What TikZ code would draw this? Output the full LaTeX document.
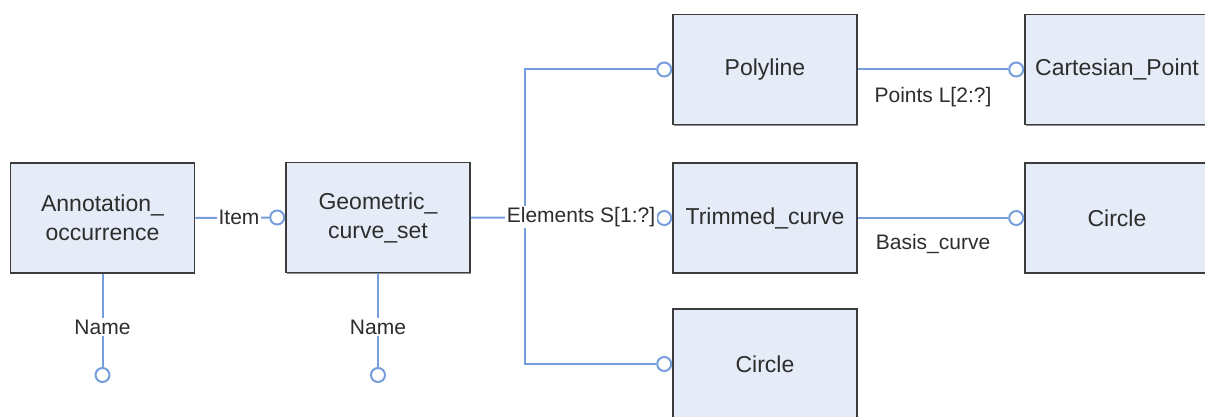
\documentclass[tikz,border=0pt]{standalone}
\usepackage{fontspec}
\setmainfont{Liberation Sans}
\usetikzlibrary{shadows}
\definecolor{boxfill}{RGB}{230,236,247}
\definecolor{boxline}{RGB}{60,60,60}
\definecolor{conn}{RGB}{118,158,220}
\definecolor{ink}{RGB}{45,45,45}
\tikzset{
  entity/.style={draw=boxline, line width=1.6pt, fill=boxfill,
    minimum width=184pt, minimum height=110pt, align=center, inner sep=0pt,
    text=ink, font=\fontsize{23}{29}\selectfont,
    drop shadow={shadow xshift=0.8pt, shadow yshift=-1.2pt, fill=black, opacity=0.45}},
  rel/.style={draw=conn, line width=2pt},
  endc/.style={circle, draw=conn, line width=2pt, fill=white,
    minimum size=14pt, inner sep=0pt},
  lbl/.style={font=\fontsize{21}{24}\selectfont, text=ink, inner sep=1.5pt, fill=white},
  lblplain/.style={font=\fontsize{21}{24}\selectfont, text=ink, inner sep=0pt},
}
\begin{document}
\begin{tikzpicture}[x=1pt,y=-1pt]
\useasboundingbox (0,0) rectangle (1205,417);
\clip (0,0) rectangle (1205,417);

% entities
\node[entity] (ann)   at (102.5,218) {Annotation\_\\occurrence};
\node[entity] (gcs)   at (378,217.5) {Geometric\_\\curve\_set};
\node[entity] (poly)  at (765,69.5)  {Polyline};
\node[entity] (cart)  at (1117,69.5) {Cartesian\_Point};
\node[entity] (trim)  at (765,218)   {Trimmed\_curve};
\node[entity] (circR) at (1117,218)  {Circle};
\node[entity] (circB) at (765,364)   {Circle};

% relationship end markers
\node[endc, anchor=east] (c-item)  at (gcs.west)   {};
\node[endc, anchor=east] (c-poly)  at (poly.west)  {};
\node[endc, anchor=east] (c-trim)  at (trim.west)  {};
\node[endc, anchor=east] (c-circB) at (circB.west) {};
\node[endc, anchor=east] (c-cart)  at (cart.west)  {};
\node[endc, anchor=east] (c-circR) at (circR.west) {};
\node[endc] (c-name1) at (102.5,375) {};
\node[endc] (c-name2) at (378,375)   {};

% Item
\draw[rel] (ann.east) -- (c-item.west);
\node[lbl] (l-item) at (239,217) {Item};

% Elements S[1:?]
\coordinate (j) at (525,217);
\draw[rel] (gcs.east) -- (c-trim.west);
\draw[rel] (c-poly.west) -| (j |- c-circB.west) -- (c-circB.west);
\node[lbl] (l-elem) at (581,217) {Elements S[1:?]};

% Points and Basis_curve
\draw[rel] (poly.east) -- node[lblplain, below=17pt] (l-pts) {Points L[2:?]} (c-cart.west);
\draw[rel] (trim.east) -- node[lblplain, below=15pt] (l-basis) {Basis\_curve} (c-circR.west);

% Name attributes
\draw[rel] (ann.south) -- (c-name1.north);
\node[lbl] (l-name1) at (102.5,327) {Name};
\draw[rel] (gcs.south) -- (c-name2.north);
\node[lbl] (l-name2) at (378,327) {Name};
\end{tikzpicture}
\end{document}
